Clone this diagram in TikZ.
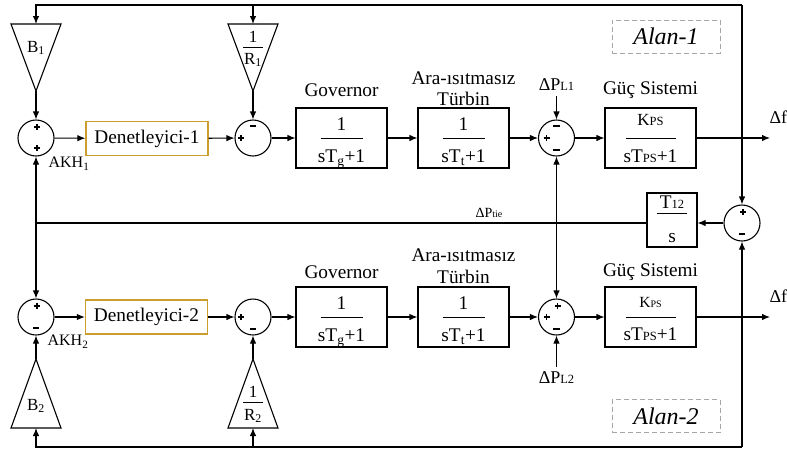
\documentclass[tikz,border=0pt]{standalone}
\usepackage{fontspec}
\setmainfont{Liberation Serif}
\usetikzlibrary{arrows.meta,calc}
\definecolor{gold}{RGB}{204,158,45}
\newcommand{\fs}[1]{\fontsize{#1}{#1}\selectfont}
\newcommand{\sm}[1]{{\fontsize{12.5}{12.5}\selectfont #1}}
\newcommand{\smm}[1]{{\fontsize{10}{10}\selectfont #1}}
\newcommand{\plsym}{\rule[2.1pt]{6pt}{1.8pt}\hspace{-3.9pt}\rule{1.8pt}{6pt}\hspace{2.1pt}}
\newcommand{\pl}[2]{\node[sg] (#1) at (#2) {\plsym};}
\newcommand{\mn}[2]{\node[sg] (#1) at (#2) {\rule{6.5pt}{2pt}};}
% fraction inside a box: #1 name, #2 box, #3 num, #4 den, #5 num baseline off, #6 den baseline off, #7 bar half, #8 bar off
\newcommand{\frc}[8]{%
  \node[lbl,anchor=base] (#1n) at ($(#2.center)+(0,#5)$) {#3};
  \node[lbl,anchor=base] (#1d) at ($(#2.center)+(0,#6)$) {#4};
  \draw[line width=1pt] ($(#2.center)+(-#7,#8)$) -- ($(#2.center)+(#7,#8)$);}
\begin{document}
\begin{tikzpicture}[x=1pt,y=-1pt,line width=1.1pt,
 arr/.style={-{Latex[length=8pt,width=6.5pt]}},
 sumc/.style={circle,draw,minimum size=36pt,inner sep=0pt,line width=1.1pt},
 blk/.style={draw,minimum width=91pt,minimum height=60pt,inner sep=0pt,line width=1.1pt},
 ctrl/.style={draw=gold,line width=1.3pt,minimum width=122pt,minimum height=34pt,inner sep=0pt,font=\fs{19.3}},
 lbl/.style={inner sep=0pt,font=\fs{19.3}},
 slbl/.style={inner sep=0pt,font=\fs{17}},
 plbl/.style={inner sep=0pt,font=\fs{18}},
 sg/.style={inner sep=0pt},
 alan/.style={draw=gray!70,dash pattern=on 5pt off 3pt,line width=0.9pt,minimum width=108pt,minimum height=33pt,inner sep=0pt,font=\fs{24}\itshape},
]
\useasboundingbox (0,0) rectangle (787,451);

% ---------- top row ----------
\node[sumc] (s1) at (36,138) {};
\node[ctrl] (c1) at (147,138.5) {Denetleyici-1};
\node[sumc] (s2) at (253,138) {};
\node[blk] (g1) at (341.5,138) {};
\node[blk] (t1) at (463.5,138) {};
\node[sumc] (s3) at (556.5,138) {};
\node[blk] (p1) at (650.5,138) {};
\coordinate (o1) at (770,138);

% ---------- bottom row ----------
\node[sumc] (s4) at (36,317) {};
\node[ctrl] (c2) at (146.5,317) {Denetleyici-2};
\node[sumc] (s5) at (253,317) {};
\node[blk] (g2) at (341.5,317) {};
\node[blk] (t2) at (463.5,317) {};
\node[sumc] (s6) at (556.5,317) {};
\node[blk] (p2) at (650.5,317) {};
\coordinate (o2) at (770,317);

% ---------- tie ----------
\node[sumc] (s7) at (742,223) {};
\node[draw,minimum width=50pt,minimum height=54pt,inner sep=0pt,line width=1.1pt] (T12) at (672,220) {};
\coordinate (tieL) at (36,223);
\coordinate (tieM) at (556.5,223);

% ---------- fractions ----------
\frc{g1f}{g1}{1}{sT\textsubscript{g}+1}{-8}{24}{21}{0}
\frc{t1f}{t1}{1}{sT\textsubscript{t}+1}{-8}{24}{21}{0}
\frc{p1f}{p1}{{\fs{17}K\sm{PS}}}{sT\sm{PS}+1}{-13}{24}{25}{0}
\frc{g2f}{g2}{1}{sT\textsubscript{g}+1}{-8}{24}{21}{0}
\frc{t2f}{t2}{1}{sT\textsubscript{t}+1}{-8}{24}{21}{0}
\frc{p2f}{p2}{{\fs{15.5}K\smm{PS}}}{sT\sm{PS}+1}{-10}{23}{25}{0}
\frc{T12f}{T12}{T\sm{12}}{s}{-12}{22}{15}{-7}

% ---------- gains ----------
\draw (11,24) -- (61,24) -- (36,91) -- cycle;
\coordinate (B1i) at (36,24); \coordinate (B1o) at (36,91);
\node[slbl] (B1l) at (36,48) {B\textsubscript{1}};
\draw (228,24) -- (278,24) -- (253,91) -- cycle;
\coordinate (R1i) at (253,24); \coordinate (R1o) at (253,91);
\node[slbl,anchor=base] (R1n) at (253,42) {1};
\draw[line width=1pt] (243,47.5) -- (263,47.5);
\node[slbl,anchor=base] (R1d) at (253,64) {R\textsubscript{1}};

\draw (11,428) -- (61,428) -- (36,359) -- cycle;
\coordinate (B2i) at (36,428); \coordinate (B2o) at (36,359);
\node[slbl] (B2l) at (36,406) {B\textsubscript{2}};
\draw (228,428) -- (278,428) -- (253,359) -- cycle;
\coordinate (R2i) at (253,428); \coordinate (R2o) at (253,359);
\node[slbl,anchor=base] (R2n) at (253,397) {1};
\draw[line width=1pt] (243,402.5) -- (263,402.5);
\node[slbl,anchor=base] (R2d) at (253,420) {R\textsubscript{2}};

% ---------- outer feedback lines ----------
\coordinate (TL) at (36,5); \coordinate (TM) at (253,5); \coordinate (TR) at (742,5);
\coordinate (BL) at (36,447); \coordinate (BM) at (253,447); \coordinate (BR) at (742,447);
\draw[arr] (TR) -- (TL) -- (B1i);
\draw[arr] (TM) -- (R1i);
\draw[arr] (TR) -- (s7.north);
\draw[arr] (BR) -- (BL) -- (B2i);
\draw[arr] (BM) -- (R2i);
\draw[arr] (BR) -- (s7.south);

% ---------- forward paths ----------
\draw[arr] (B1o) -- (s1.north);
\draw[arr] (R1o) -- (s2.north);
\draw[arr] (s1) -- (c1);
\draw[arr] (c1) -- (s2);
\draw[arr] (s2) -- (g1);
\draw[arr] (g1) -- (t1);
\draw[arr] (t1) -- (s3);
\draw[arr] (s3) -- (p1);
\draw[arr] (p1) -- (o1);

\draw[arr] (B2o) -- (s4.south);
\draw[arr] (R2o) -- (s5.south);
\draw[arr] (s4) -- (c2);
\draw[arr] (c2) -- (s5);
\draw[arr] (s5) -- (g2);
\draw[arr] (g2) -- (t2);
\draw[arr] (t2) -- (s6);
\draw[arr] (s6) -- (p2);
\draw[arr] (p2) -- (o2);

% ---------- tie line ----------
\draw[arr] (s7.west) -- (s7.west -| T12.east);
\draw (T12.west |- tieL) -- (tieL);
\draw[arr] (tieL) -- (s1.south);
\draw[arr] (tieL) -- (s4.north);
\draw[arr] (tieM) -- (s3.south);
\draw[arr] (tieM) -- (s6.north);

% ---------- load disturbances ----------
\node[plbl] (PL1) at (556.5,85) {ΔP\sm{L1}};
\node[plbl] (PL2) at (556.5,378) {ΔP\sm{L2}};
\draw[arr] ($(PL1.south)+(0,5)$) -- (s3.north);
\draw[arr] ($(PL2.north)+(0,-5)$) -- (s6.south);

% ---------- signs ----------
\pl{s1a}{$(s1)+(0,-11)$} \pl{s1b}{$(s1)+(0,10)$}
\mn{s2a}{$(s2)+(0,-12)$} \pl{s2b}{$(s2)+(-13,0)$}
\mn{s3a}{$(s3)+(0,-12)$} \pl{s3b}{$(s3)+(-11,0)$} \mn{s3c}{$(s3)+(0,12)$}
\pl{s4a}{$(s4)+(0,-11)$} \mn{s4b}{$(s4)+(0,11)$}
\pl{s5b}{$(s5)+(-13,0)$} \mn{s5c}{$(s5)+(0,12)$}
\pl{s6a}{$(s6)+(0,-11)$} \pl{s6b}{$(s6)+(-11,0)$} \mn{s6c}{$(s6)+(0,12)$}
\pl{s7a}{$(s7)+(0,-11)$} \mn{s7b}{$(s7)+(0,11)$}

% ---------- labels ----------
\node[lbl] (gov1) at (341.5,90) {Governor};
\node[lbl] (ara1) at (463.5,78) {Ara-ısıtmasız};
\node[lbl] (tur1) at (463.5,99) {Türbin};
\node[lbl] (guc1) at (650.5,90) {Güç Sistemi};
\node[lbl] (gov2) at (341.5,272) {Governor};
\node[lbl] (ara2) at (463.5,255) {Ara-ısıtmasız};
\node[lbl] (tur2) at (463.5,277) {Türbin};
\node[lbl] (guc2) at (650.5,272) {Güç Sistemi};
\node[inner sep=0pt,font=\fs{16}] (akh1) at (69,164) {AKH\textsubscript{1}};
\node[inner sep=0pt,font=\fs{16}] (akh2) at (68,342) {AKH\textsubscript{2}};
\node[inner sep=0pt,font=\fs{14}] (ptie) at (489,213) {ΔP\smm{tie}};
\node[plbl,anchor=west] (df1) at (769,118) {Δf\textsubscript{1}};
\node[plbl,anchor=west] (df2) at (769,297) {Δf\textsubscript{2}};
\node[alan] (A1) at (666,36.5) {Alan-1};
\node[alan] (A2) at (666,416) {Alan-2};
\end{tikzpicture}
\end{document}
